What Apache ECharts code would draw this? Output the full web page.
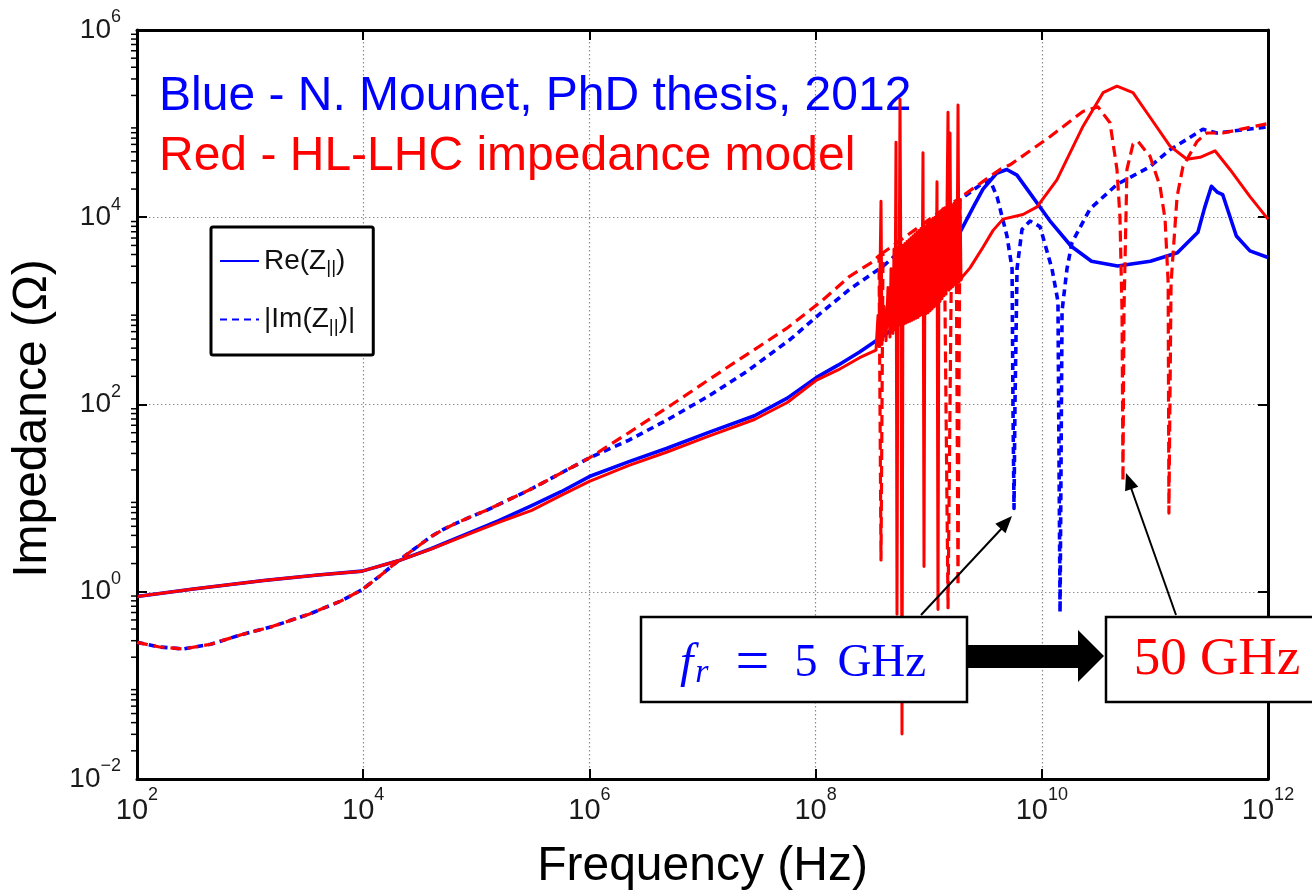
<!DOCTYPE html>
<html>
<head>
<meta charset="utf-8">
<script src="https://cdn.jsdelivr.net/npm/echarts@6/dist/echarts.min.js"></script>
<style>
html,body{margin:0;padding:0;background:#fff;}
#chart{width:1312px;height:896px;}
</style>
</head>
<body>
<div id="chart"></div>
<script>
// ---------------- Tick definitions ----------------
const xTicks = [1e2, 1e4, 1e6, 1e8, 1e10, 1e12];
const xTickLabels = ['2', '4', '6', '8', '10', '12'];
const yTicks = [1e-2, 1e0, 1e2, 1e4, 1e6];
const yTickLabels = ['\u22122', '0', '2', '4', '6'];

// ---------------- Data ----------------
// Blue: N. Mounet, PhD thesis 2012
const freqBlueRe = [1e2, 316, 1320, 3980, 9770, 2.04e4, 3.98e4, 7.94e4, 1.58e5, 3.09e5,
  5.62e5, 1e6, 2.24e6, 4.79e6, 1.12e7, 2.88e7, 5.62e7, 1.02e8, 1.58e8, 2.45e8,
  4.79e8, 8.91e8, 1.41e9, 1.91e9, 2.51e9, 3.02e9, 3.98e9, 4.9e9, 6.03e9, 7.41e9,
  1.2e10, 1.82e10, 2.75e10, 4.68e10, 9.12e10, 1.58e11, 2.4e11, 2.75e11, 3.16e11, 3.55e11,
  3.98e11, 5.25e11, 6.92e11, 1e12];
const zBlueRe = [0.89, 1.07, 1.32, 1.51, 1.66, 2.14, 2.88, 4.07, 5.75, 8.32,
  11.7, 17.0, 24.5, 33.9, 50.1, 75.9, 117, 195, 263, 363,
  631, 1585, 3548, 7080, 13200, 19950, 29500, 32400, 28200, 19950,
  8910, 4900, 3390, 3020, 3390, 4170, 6920, 12600, 21400, 18600,
  17400, 6310, 4370, 3720];

const freqBlueIm = [100, 158, 257, 447, 832, 1585, 3310, 6310, 9770, 14100,
  20400, 31600, 39800, 50100, 63100, 89100, 1.23e5, 3.09e5, 1e6, 2.24e6,
  4.79e6, 1.17e7, 2.51e7, 6.03e7, 1.12e8, 2.0e8, 3.98e8, 8.91e8, 1.91e9, 2.82e9,
  3.47e9, 4.02e9, 4.92e9, 5.46e9, 5.56e9, 5.68e9, 5.79e9, 6.04e9, 6.68e9, 7.87e9,
  9.64e9, 1.23e10, 1.39e10, 1.45e10, 1.51e10, 1.67e10, 1.85e10, 2.67e10, 4.62e10, 9.06e10,
  1.36e11, 2.66e11, 3.54e11, 9.04e11, 1e12];
const zBlueIm = [0.288, 0.257, 0.245, 0.275, 0.347, 0.427, 0.575, 0.794, 1.05, 1.48,
  2.14, 3.16, 3.89, 4.57, 5.25, 6.31, 7.41, 12.6, 26.9, 41.7,
  67.6, 126, 229, 501, 955, 1700, 3020, 7080, 15500, 21900,
  25100, 16600, 6310, 2820, 100, 7.76, 100, 2820, 7410, 9120,
  7940, 2820, 1260, 0.603, 1000, 2820, 5370, 12300, 22400, 34700,
  52500, 87100, 79400, 91200, 93300];

// Red: HL-LHC impedance model
const freqRedRe = [1e2, 316, 1320, 3980, 9770, 2.04e4, 3.98e4, 7.94e4, 1.58e5, 3.09e5,
  5.62e5, 1e6, 2.24e6, 4.79e6, 1.12e7, 2.88e7, 5.62e7, 1.02e8, 1.58e8, 2.45e8,
  3.420e8, 3.490e8, 3.562e8, 3.636e8, 3.787e8, 3.865e8, 4.025e8, 4.193e8, 4.367e8, 4.548e8,
  4.642e8, 4.835e8, 4.934e8, 5.036e8, 5.139e8, 5.245e8, 5.353e8, 5.463e8, 5.575e8, 5.690e8,
  5.807e8, 5.926e8, 6.048e8, 6.172e8, 6.299e8, 6.429e8, 6.561e8, 6.696e8, 6.834e8, 6.974e8,
  7.118e8, 7.264e8, 7.413e8, 7.566e8, 7.721e8, 7.880e8, 8.042e8, 8.208e8, 8.377e8, 8.549e8,
  8.725e8, 8.904e8, 9.087e8, 9.274e8, 9.465e8, 9.660e8, 9.859e8, 1.0062e9, 1.0269e9, 1.0480e9,
  1.0695e9, 1.0915e9, 1.1140e9, 1.1369e9, 1.1603e9, 1.1842e9, 1.2085e9, 1.2334e9, 1.2588e9, 1.2847e9,
  1.3111e9, 1.3381e9, 1.3656e9, 1.3937e9, 1.4224e9, 1.4517e9, 1.4815e9, 1.5120e9, 1.5431e9, 1.5749e9,
  1.6073e9, 1.6404e9, 1.6741e9, 1.7086e9, 1.7437e9, 1.7796e9, 1.8162e9, 1.8536e9, 1.8917e9, 1.9306e9,
  1.9704e9, 2.32e9, 3.02e9, 3.71e9, 4.54e9, 6.82e9, 9.08e9, 1.36e10, 2.31e10, 3.48e10,
  4.62e10, 6.40e10, 9.06e10, 1.36e11, 1.92e11, 2.51e11, 3.40e11, 4.61e11, 6.93e11, 1e12];
const zRedRe = [0.89, 1.07, 1.32, 1.51, 1.66, 2.14, 2.85, 3.98, 5.50, 7.41,
  10.7, 15.1, 22.4, 30.9, 45.7, 69.2, 105, 182, 234, 316,
  380, 398, 891, 417, 14800, 437, 1120, 479, 1780, 525,
  2820, 575, 4570, 631, 63100, 0.575, 4790, 708, 182000, 1000,
  0.0302, 5010, 724, 5250, 741, 5500, 759, 5750, 776, 6030,
  794, 6310, 813, 6610, 832, 6920, 851, 7240, 891, 7590,
  912, 49000, 1.86, 7940, 933, 8910, 955, 9120, 1000, 9330,
  1050, 9770, 1100, 10000, 1150, 24000, 0.646, 10700, 1260, 11200,
  1350, 12300, 1450, 12600, 1510, 12900, 132000, 1660, 79400, 1740,
  13500, 1820, 14100, 1910, 14500, 2000, 158000, 2040, 15500, 2140,
  2290, 2880, 4790, 7240, 9550, 10700, 12900, 25100, 93300, 214000,
  251000, 214000, 117000, 57500, 41700, 43700, 51300, 32400, 16600, 9550];

const freqRedIm = [100, 158, 257, 447, 832, 1585, 3310, 6310, 9770, 14100,
  20400, 31600, 39800, 50100, 63100, 89100, 1.23e5, 3.09e5, 1e6, 2.24e6,
  5.37e6, 1.58e7, 5.5e7, 1.12e8, 2.0e8, 3.16e8, 3.636e8, 3.787e8, 3.944e8, 1.366e9,
  1.482e9, 1.607e9, 1.744e9, 1.816e9, 1.892e9, 4.27e9, 5.24e9, 1.18e10, 2.31e10, 3.14e10,
  4.01e10, 4.62e10, 4.91e10, 5.12e10, 5.22e10, 5.33e10, 5.66e10, 6.40e10, 7.08e10, 9.06e10,
  1.11e11, 1.23e11, 1.31e11, 1.33e11, 1.39e11, 1.57e11, 1.77e11, 2.36e11, 2.88e11, 4.0e11,
  9.04e11, 1e12];
const zRedIm = [0.288, 0.257, 0.245, 0.275, 0.347, 0.427, 0.575, 0.794, 1.05, 1.48,
  2.14, 3.16, 3.89, 4.57, 5.25, 6.31, 7.41, 12.6, 26.9, 50.1,
  100, 240, 646, 1260, 2340, 3310, 3890, 2.19, 4170, 12300,
  0.676, 14100, 15100, 1.15, 16200, 32400, 36300, 72400, 135000, 151000,
  102000, 32400, 10000, 1000, 15.1, 1000, 32400, 60300, 64600, 44700,
  21400, 9550, 2000, 6.92, 2000, 16600, 34700, 64600, 79400, 79400,
  97700, 100000];

// ---------------- Texts ----------------
const nameRe = 'Re(Z||)';
const nameIm = '|Im(Z||)|';
const titleBlue = 'Blue - N. Mounet, PhD thesis, 2012';
const titleRed = 'Red - HL-LHC impedance model';

// ---------------- Helpers ----------------
const FONT = "'Liberation Sans', Arial, Helvetica, sans-serif";
const SERIF = "'Liberation Serif', 'Times New Roman', serif";
const BLUE = '#0000ff';
const RED = '#ff0000';
function pairs(fs, zs) { return fs.map((f, i) => [f, zs[i]]); }
function tickIndex(ticks, v) {
  let best = 0, d = Infinity;
  ticks.forEach((t, i) => {
    const dd = Math.abs(Math.log10(v) - Math.log10(t));
    if (dd < d) { d = dd; best = i; }
  });
  return best;
}
// minor tick positions on the log y axis (2..9 x 10^k)
const yMinorTicks = [];
for (let k = -2; k < 6; k++) for (let m = 2; m <= 9; m++) yMinorTicks.push(m * Math.pow(10, k));

const chart = echarts.init(document.getElementById('chart'), null, {renderer: 'canvas'});

const gridLine = {show: true, lineStyle: {color: '#8a8a8a', width: 1.2, type: [1.4, 2.6]}};

const baseGraphics = [
  {id: 'tBlue', type: 'text', x: 159, y: 97, z: 1,
   style: {text: titleBlue, fill: BLUE, fontSize: 48, fontFamily: FONT, verticalAlign: 'middle'}},
  {id: 'tRed', type: 'text', x: 159, y: 157, z: 1,
   style: {text: titleRed, fill: RED, fontSize: 48, fontFamily: FONT, verticalAlign: 'middle'}},
  // big arrow between the two boxes
  {id: 'bigArrow', type: 'polygon', z: 100,
   shape: {points: [[966, 645], [1078, 645], [1078, 630], [1104, 656], [1078, 682], [1078, 668], [966, 668]]},
   style: {fill: '#000'}},
  // thin arrows
  {id: 'a1', type: 'line', z: 100, shape: {x1: 921, y1: 615, x2: 1004, y2: 526}, style: {stroke: '#000', lineWidth: 2}},
  {id: 'a1h', type: 'polygon', z: 100, shape: {points: [[1012, 516], [1005.5, 533.3], [995.3, 523.7]]}, style: {fill: '#000'}},
  {id: 'a2', type: 'line', z: 100, shape: {x1: 1176, y1: 615, x2: 1130, y2: 485}, style: {stroke: '#000', lineWidth: 2}},
  {id: 'a2h', type: 'polygon', z: 100, shape: {points: [[1126, 473], [1138.3, 486.7], [1125.1, 491.3]]}, style: {fill: '#000'}},
  // boxes
  {id: 'b1', type: 'rect', z: 100, shape: {x: 641, y: 617, width: 326, height: 85},
   style: {fill: '#fff', stroke: '#000', lineWidth: 2.5}},
  {id: 'b2', type: 'rect', z: 100, shape: {x: 1106, y: 617, width: 215, height: 85},
   style: {fill: '#fff', stroke: '#000', lineWidth: 2.5}},
  {id: 'txt1', type: 'text', z: 101, x: 680, y: 664,
   style: {
     text: '{i|f}{r|r}{n|=}{d|5}{g|GHz}', verticalAlign: 'middle', align: 'left',
     rich: {
       i: {fill: BLUE, fontSize: 48, fontFamily: SERIF, fontStyle: 'italic'},
       r: {fill: BLUE, fontSize: 34, fontFamily: SERIF, fontStyle: 'italic', padding: [18, 0, 0, 2]},
       n: {fill: BLUE, fontSize: 60, fontFamily: SERIF, padding: [0, 0, 0, 27]},
       d: {fill: BLUE, fontSize: 46, fontFamily: SERIF, padding: [0, 0, 0, 25]},
       g: {fill: BLUE, fontSize: 47, fontFamily: SERIF, padding: [0, 0, 0, 20]}
     }
   }},
  {id: 'txt2', type: 'text', z: 101, x: 1217, y: 660,
   style: {text: '50 GHz', fill: RED, fontSize: 53, fontFamily: SERIF, align: 'center', verticalAlign: 'middle'}}
];

const option = {
  animation: false,
  backgroundColor: '#ffffff',
  grid: {left: 137, right: 44, top: 30, bottom: 114, containLabel: false},
  legend: {
    data: [nameRe, nameIm],
    orient: 'vertical',
    left: 211, top: 227,
    padding: [20, 18, 19, 8],
    itemWidth: 39, itemHeight: 14, itemGap: 28,
    borderColor: '#000', borderWidth: 3, borderRadius: 2,
    backgroundColor: '#ffffff',
    selectedMode: false,
    itemStyle: {color: 'rgba(0,0,0,0)', borderWidth: 0, opacity: 0},
    formatter: function (name) {
      if (name === nameRe) return '{n|Re(Z}{s|||}{n|)}';
      return '{n||Im(Z}{s|||}{n|)|}';
    },
    textStyle: {
      fontSize: 28, color: '#111', fontFamily: FONT,
      rich: {
        n: {fontSize: 28, color: '#111', fontFamily: FONT},
        s: {fontSize: 19, color: '#111', fontFamily: FONT, padding: [14, 0, 0, 0]}
      }
    }
  },
  xAxis: [
    {
      type: 'log', logBase: 10, min: 1e2, max: 1e12, position: 'bottom',
      name: 'Frequency (Hz)', nameLocation: 'middle', nameGap: 64,
      nameTextStyle: {fontSize: 48, color: '#000', fontFamily: FONT},
      axisLine: {show: true, onZero: false, lineStyle: {color: '#000', width: 3}},
      axisTick: {show: true, inside: true, length: 10, customValues: xTicks, lineStyle: {color: '#000', width: 2}},
      axisLabel: {
        show: true, customValues: xTicks, margin: 7, hideOverlap: false,
        showMinLabel: true, showMaxLabel: true,
        formatter: function (v) { return '{b|10}{s|' + xTickLabels[tickIndex(xTicks, v)] + '}'; },
        rich: {
          b: {fontSize: 29, color: '#1a1a1a', fontFamily: FONT},
          s: {fontSize: 18, color: '#1a1a1a', fontFamily: FONT, padding: [0, 0, 32, 0]}
        }
      },
      splitLine: gridLine,
      minorTick: {show: false}, minorSplitLine: {show: false}
    },
    {
      type: 'log', logBase: 10, min: 1e2, max: 1e12, position: 'top',
      axisLine: {show: true, onZero: false, lineStyle: {color: '#000', width: 3}},
      axisTick: {show: true, inside: true, length: 10, customValues: xTicks, lineStyle: {color: '#000', width: 2}},
      axisLabel: {show: false},
      splitLine: {show: false}
    }
  ],
  yAxis: [
    {
      type: 'log', logBase: 10, min: 1e-2, max: 1e6, position: 'left',
      name: 'Impedance (\u03A9)', nameLocation: 'middle', nameGap: 80, nameRotate: 90,
      nameTextStyle: {fontSize: 48, color: '#000', fontFamily: FONT, padding: [0, 28, 0, 0]},
      axisLine: {show: true, onZero: false, lineStyle: {color: '#000', width: 3}},
      axisTick: {show: true, inside: true, length: 10, customValues: yTicks, lineStyle: {color: '#000', width: 2}},
      axisLabel: {
        show: true, customValues: yTicks, margin: 16, hideOverlap: false,
        showMinLabel: true, showMaxLabel: true,
        formatter: function (v) { return '{b|10}{s|' + yTickLabels[tickIndex(yTicks, v)] + '}'; },
        rich: {
          b: {fontSize: 28, color: '#1a1a1a', fontFamily: FONT},
          s: {fontSize: 18, color: '#1a1a1a', fontFamily: FONT, padding: [0, 0, 25, 0]}
        }
      },
      splitLine: gridLine,
      minorTick: {show: false}, minorSplitLine: {show: false}
    },
    {
      type: 'log', logBase: 10, min: 1e-2, max: 1e6, position: 'right',
      axisLine: {show: true, onZero: false, lineStyle: {color: '#000', width: 3}},
      axisTick: {show: true, inside: true, length: 10, customValues: yTicks, lineStyle: {color: '#000', width: 2}},
      axisLabel: {show: false},
      splitLine: {show: false}
    }
  ],
  series: [
    {
      name: nameRe, type: 'line', xAxisIndex: 0, yAxisIndex: 0,
      data: pairs(freqBlueRe, zBlueRe),
      symbol: 'none', showSymbol: false, silent: true, smooth: false, z: 3,
      lineStyle: {color: BLUE, width: 3.6, type: 'solid', join: 'round'},
      itemStyle: {color: BLUE}, emphasis: {disabled: true}
    },
    {
      name: nameIm, type: 'line', xAxisIndex: 0, yAxisIndex: 0,
      data: pairs(freqBlueIm, zBlueIm),
      symbol: 'none', showSymbol: false, silent: true, z: 3,
      lineStyle: {color: BLUE, width: 3.6, type: [7, 5], join: 'round'},
      itemStyle: {color: BLUE}, emphasis: {disabled: true}
    },
    {
      name: 'HL-LHC Re', type: 'line', xAxisIndex: 0, yAxisIndex: 0,
      data: pairs(freqRedRe, zRedRe),
      symbol: 'none', showSymbol: false, silent: true, z: 4,
      lineStyle: {color: RED, width: 3, type: 'solid', join: 'round'},
      itemStyle: {color: RED}, emphasis: {disabled: true}
    },
    {
      name: 'HL-LHC Im', type: 'line', xAxisIndex: 0, yAxisIndex: 0,
      data: pairs(freqRedIm, zRedIm),
      symbol: 'none', showSymbol: false, silent: true, z: 4,
      lineStyle: {color: RED, width: 3.2, type: [11, 6], join: 'round'},
      itemStyle: {color: RED}, emphasis: {disabled: true}
    }
  ],
  graphic: {elements: baseGraphics}
};
chart.setOption(option);

// Minor ticks of the log y axis, positioned through the axis scale.
const minorTickEls = yMinorTicks.map(function (v, i) {
  const p = chart.convertToPixel({xAxisIndex: 0, yAxisIndex: 0}, [xTicks[0], v]);
  return {id: 'mt' + i, type: 'line', z: 60, silent: true,
          shape: {x1: p[0] - 6, y1: p[1], x2: p[0] + 1, y2: p[1]},
          style: {stroke: '#000', lineWidth: 1.5}};
});
chart.setOption({graphic: {elements: baseGraphics.concat(minorTickEls)}});
</script>
</body>
</html>
